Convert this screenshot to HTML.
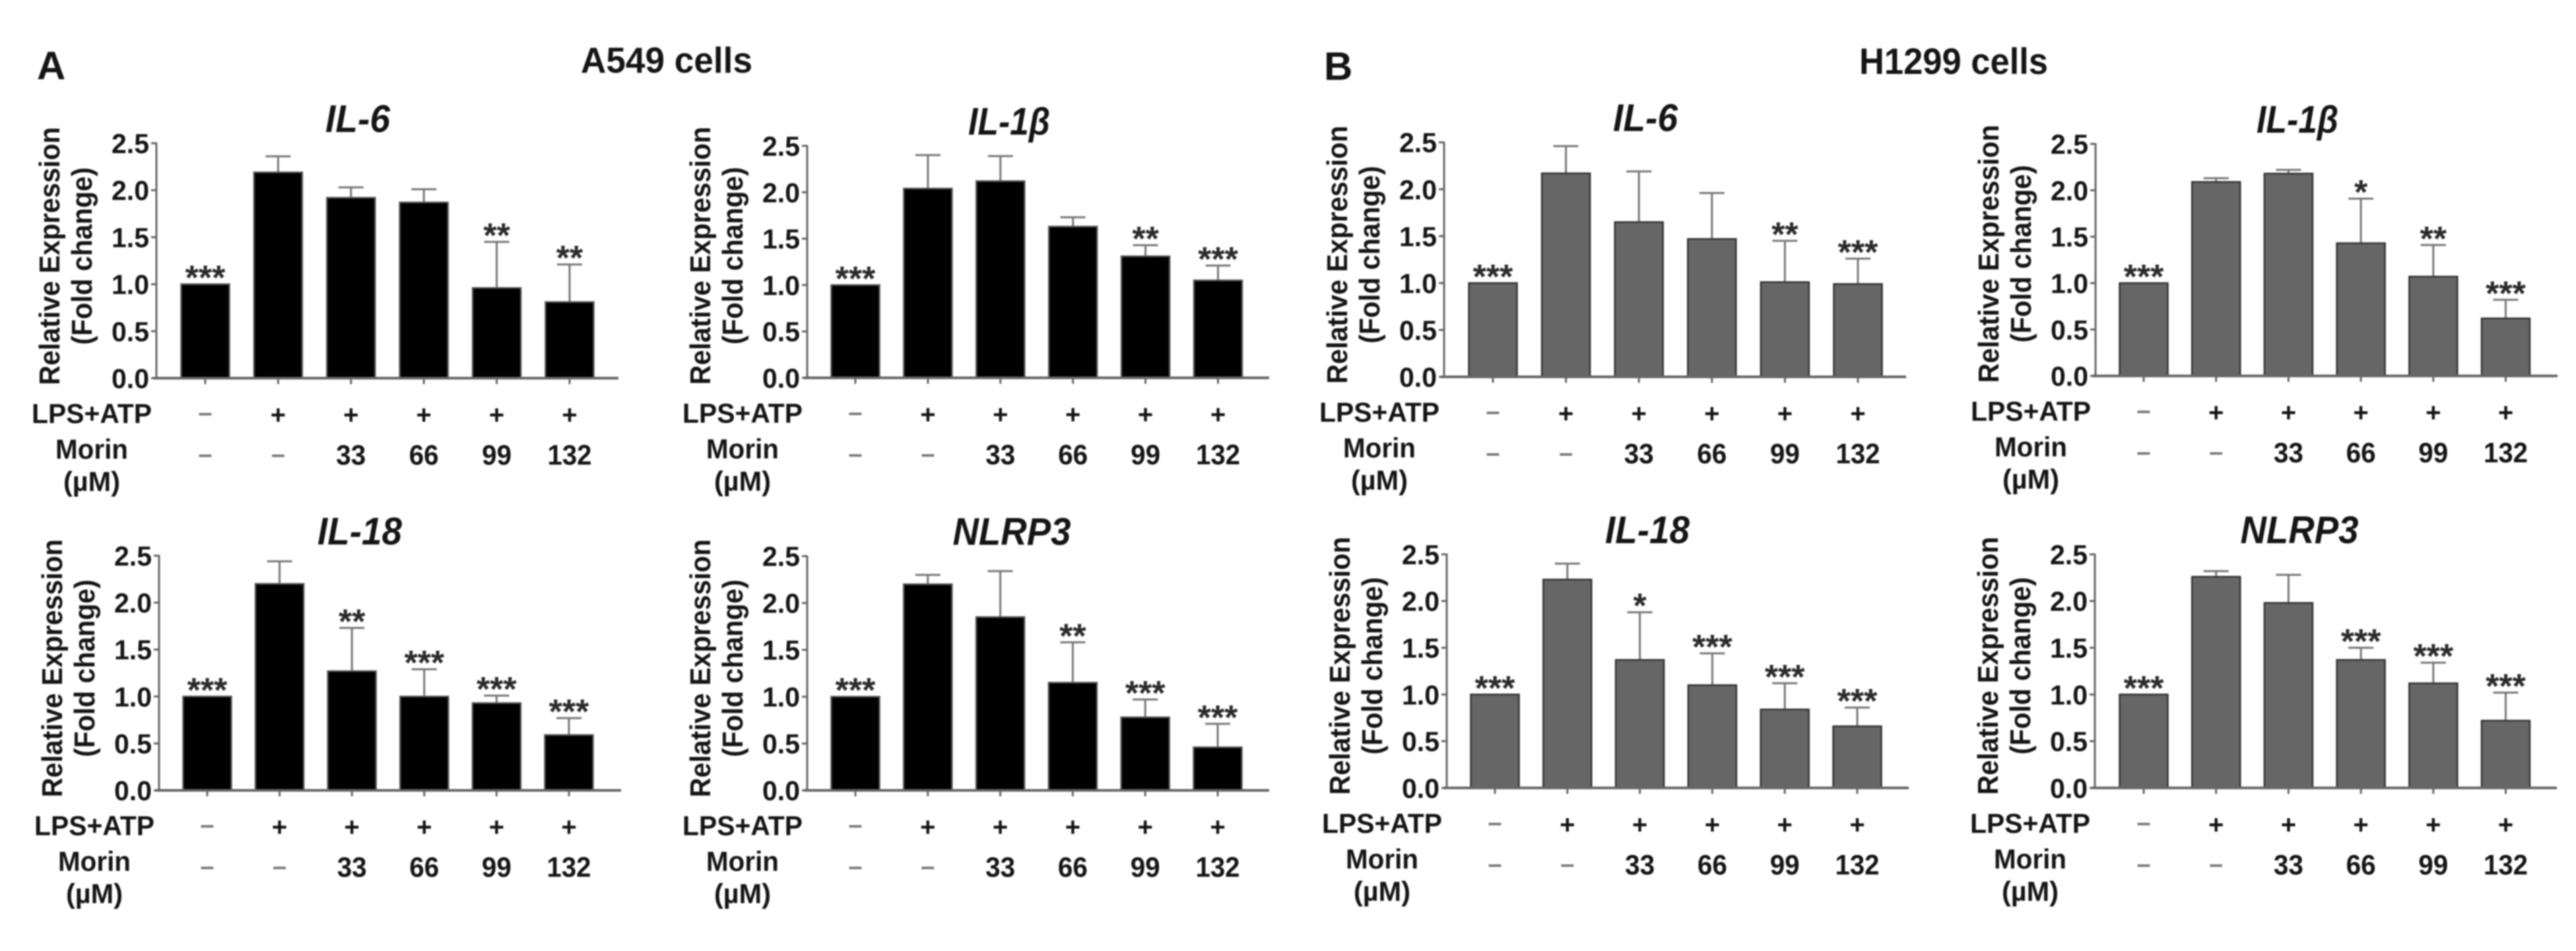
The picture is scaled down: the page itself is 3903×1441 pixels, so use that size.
<!DOCTYPE html>
<html lang="en">
<head>
<meta charset="utf-8">
<title>Morin expression bar charts</title>
<style>
html,body{margin:0;padding:0;background:#fff;}
body{width:3903px;height:1441px;overflow:hidden;}
svg{display:block;font-family:"Liberation Sans","DejaVu Sans",sans-serif;filter:blur(1.1px);}
text{fill:#151515;font-weight:bold;}
</style>
</head>
<body>
<svg id="figure" xmlns="http://www.w3.org/2000/svg" width="3903" height="1441" viewBox="0 0 3903 1441">
<rect x="0" y="0" width="3903" height="1441" fill="#fff"/>
<text x="56" y="120" font-size="60">A</text>
<text x="880" y="110" font-size="55" textLength="260" lengthAdjust="spacingAndGlyphs">A549 cells</text>
<text x="2006" y="121" font-size="60">B</text>
<text x="2817" y="112" font-size="56" textLength="286" lengthAdjust="spacingAndGlyphs">H1299 cells</text>
</svg>
<script>
var yTickValues = [0, 0.5, 1, 1.5, 2, 2.5];
var lpsAtpLabels = ["–", "+", "+", "+", "+", "+"];
var morinLabels = ["–", "–", "33", "66", "99", "132"];

var a549Il6Means = [1, 2.19, 1.92, 1.87, 0.96, 0.81];
var a549Il6Errors = [0, 0.17, 0.11, 0.14, 0.49, 0.40];
var a549Il6Stars = ["***", "", "", "", "**", "**"];

var a549Il1bMeans = [1, 2.04, 2.12, 1.63, 1.31, 1.05];
var a549Il1bErrors = [0, 0.36, 0.27, 0.10, 0.12, 0.16];
var a549Il1bStars = ["***", "", "", "", "**", "***"];

var a549Il18Means = [1, 2.20, 1.27, 1.00, 0.93, 0.59];
var a549Il18Errors = [0, 0.24, 0.46, 0.29, 0.08, 0.18];
var a549Il18Stars = ["***", "", "**", "***", "***", "***"];

var a549Nlrp3Means = [1, 2.20, 1.85, 1.15, 0.78, 0.46];
var a549Nlrp3Errors = [0, 0.10, 0.49, 0.43, 0.19, 0.25];
var a549Nlrp3Stars = ["***", "", "", "**", "***", "***"];

var h1299Il6Means = [1, 2.17, 1.65, 1.47, 1.01, 0.99];
var h1299Il6Errors = [0, 0.29, 0.54, 0.49, 0.44, 0.27];
var h1299Il6Stars = ["***", "", "", "", "**", "***"];

var h1299Il1bMeans = [1, 2.09, 2.18, 1.43, 1.07, 0.62];
var h1299Il1bErrors = [0, 0.04, 0.04, 0.48, 0.34, 0.20];
var h1299Il1bStars = ["***", "", "", "*", "**", "***"];

var h1299Il18Means = [1, 2.23, 1.37, 1.10, 0.84, 0.66];
var h1299Il18Errors = [0, 0.17, 0.51, 0.34, 0.28, 0.20];
var h1299Il18Stars = ["***", "", "*", "***", "***", "***"];

var h1299Nlrp3Means = [1, 2.26, 1.98, 1.37, 1.12, 0.72];
var h1299Nlrp3Errors = [0, 0.06, 0.30, 0.13, 0.22, 0.30];
var h1299Nlrp3Stars = ["***", "", "", "***", "***", "***"];

var svg = document.getElementById('figure');
var NS = 'http://www.w3.org/2000/svg';

function mk(parent, tag, attrs, name, content) {
  var el = document.createElementNS(NS, tag);
  for (var k in attrs) { el.setAttribute(k, attrs[k]); }
  
  
  if (content !== undefined) { el.textContent = content; }
  parent.appendChild(el);
  return el;
}

function label(parent, str, x, y, size, width, name, extra) {
  var attrs = { x: x, y: y, 'font-size': size, 'text-anchor': 'middle' };
  if (width) { attrs.textLength = width; attrs.lengthAdjust = 'spacingAndGlyphs'; }
  for (var k in (extra || {})) { attrs[k] = extra[k]; }
  return mk(parent, 'text', attrs, name, str);
}

function drawPanel(cfg) {
  var g = mk(svg, 'g', {}, cfg.key + '-chart');
  function yScale(v) { return cfg.y0 - (v / 2.5) * (cfg.y0 - cfg.yTop); }
  function xScale(i) { return cfg.x0 + i * cfg.dx; }
  var ax = cfg.ax, y0 = cfg.y0;

  // title
  label(g, cfg.title, ax + cfg.titleDx, cfg.yTop - 17, 58, cfg.titleWidth, cfg.key + '-title', { 'font-style': 'italic' });

  // y axis titles
  var cy = y0 - 185;
  label(g, 'Relative Expression', 0, 0, 44, 391, cfg.key + '-y-axis-title',
    { transform: 'translate(' + (ax - 147) + ',' + cy + ') rotate(-90)' });
  label(g, '(Fold change)', 0, 0, 44, 269, cfg.key + '-y-axis-subtitle',
    { transform: 'translate(' + (ax - 98) + ',' + cy + ') rotate(-90)' });

  // bars + error bars
  cfg.means.forEach(function (m, i) {
    var cx = xScale(i), top = yScale(m), errTop = yScale(m + cfg.errors[i]);
    if (cfg.errors[i] > 0) {
      mk(g, 'line', { x1: cx, x2: cx, y1: top, y2: errTop, stroke: '#777', 'stroke-width': 3 }, cfg.key + '-error-bar-' + i);
      mk(g, 'line', { x1: cx - 19, x2: cx + 19, y1: errTop, y2: errTop, stroke: '#777', 'stroke-width': 3 }, cfg.key + '-error-cap-' + i);
    }
    mk(g, 'rect', { x: cx - 36.5, y: top, width: 73, height: y0 - top, fill: cfg.fill, stroke: cfg.edge, 'stroke-width': 2.5 }, cfg.key + '-bar-' + i);
    if (cfg.stars[i]) {
      label(g, cfg.stars[i], cx, errTop + 8, 52, 0, cfg.key + '-significance-' + i, { style: 'fill:#2a2a2a' });
    }
  });

  // axes
  mk(g, 'line', { x1: ax, x2: ax, y1: cfg.yTop - 1, y2: y0, stroke: '#666', 'stroke-width': 3 }, cfg.key + '-y-axis');
  mk(g, 'line', { x1: ax - 5, x2: ax + 700, y1: y0, y2: y0, stroke: '#666', 'stroke-width': 4 }, cfg.key + '-x-axis');

  yTickValues.forEach(function (t) {
    var y = yScale(t);
    mk(g, 'line', { x1: ax - 8, x2: ax, y1: y, y2: y, stroke: '#666', 'stroke-width': 3 }, cfg.key + '-y-tick-' + t);
    label(g, t.toFixed(1), ax - 11, y + 15, 42, 57, cfg.key + '-y-tick-label-' + t, { 'text-anchor': 'end' });
  });

  // treatment rows
  label(g, 'LPS+ATP', ax - 98, y0 + 68, 42, 182, cfg.key + '-lps-atp-label');
  label(g, 'Morin', ax - 98, y0 + 122, 42, 110, cfg.key + '-morin-label');
  label(g, '(µM)', ax - 98, y0 + 171, 42, 86, cfg.key + '-morin-unit-label');

  lpsAtpLabels.forEach(function (s, i) {
    var cx = xScale(i);
    mk(g, 'line', { x1: cx, x2: cx, y1: y0, y2: y0 + 9, stroke: '#666', 'stroke-width': 3 }, cfg.key + '-x-tick-' + i);
    if (s === '+') {
      label(g, s, cx, y0 + 69, 40, 0, cfg.key + '-lps-atp-value-' + i);
    } else {
      label(g, s, cx, y0 + 65, 38, 0, cfg.key + '-lps-atp-value-' + i, { style: 'fill:#777' });
    }
  });
  morinLabels.forEach(function (s, i) {
    var cx = xScale(i);
    if (s === '–') {
      label(g, s, cx, y0 + 128, 38, 0, cfg.key + '-morin-value-' + i, { style: 'fill:#777' });
    } else {
      label(g, s, cx, y0 + 131, 43, s.length === 3 ? 67 : 45, cfg.key + '-morin-value-' + i);
    }
  });
}

var BLACK = { fill: '#000', edge: '#555' };
var GREY = { fill: '#666', edge: '#333' };

function panel(key, title, titleWidth, titleDx, ax, y0, yTop, x0, dx, means, errors, stars, look) {
  drawPanel({ key: key, title: title, titleWidth: titleWidth, titleDx: titleDx, ax: ax, y0: y0, yTop: yTop,
    x0: x0, dx: dx, means: means, errors: errors, stars: stars, fill: look.fill, edge: look.edge });
}

panel('a549-il6', 'IL-6', 98, 305, 237, 573, 217, 311, 110.4, a549Il6Means, a549Il6Errors, a549Il6Stars, BLACK);
panel('a549-il1b', 'IL-1β', 124, 306, 1223, 572.5, 221, 1296, 109.9, a549Il1bMeans, a549Il1bErrors, a549Il1bStars, BLACK);
panel('a549-il18', 'IL-18', 128, 304, 241, 1197.6, 842, 314, 109.6, a549Il18Means, a549Il18Errors, a549Il18Stars, BLACK);
panel('a549-nlrp3', 'NLRP3', 179, 310, 1223, 1197.6, 842.7, 1296, 109.8, a549Nlrp3Means, a549Nlrp3Errors, a549Nlrp3Stars, BLACK);
panel('h1299-il6', 'IL-6', 98, 305, 2188, 571, 215.7, 2262, 110.6, h1299Il6Means, h1299Il6Errors, h1299Il6Stars, GREY);
panel('h1299-il1b', 'IL-1β', 124, 306, 3175, 569.6, 218, 3248, 109.7, h1299Il1bMeans, h1299Il1bErrors, h1299Il1bStars, GREY);
panel('h1299-il18', 'IL-18', 128, 304, 2192, 1193.9, 839.9, 2265, 109.8, h1299Il18Means, h1299Il18Errors, h1299Il18Stars, GREY);
panel('h1299-nlrp3', 'NLRP3', 179, 310, 3174, 1193.9, 839.9, 3248, 109.7, h1299Nlrp3Means, h1299Nlrp3Errors, h1299Nlrp3Stars, GREY);
</script>
</body>
</html>
